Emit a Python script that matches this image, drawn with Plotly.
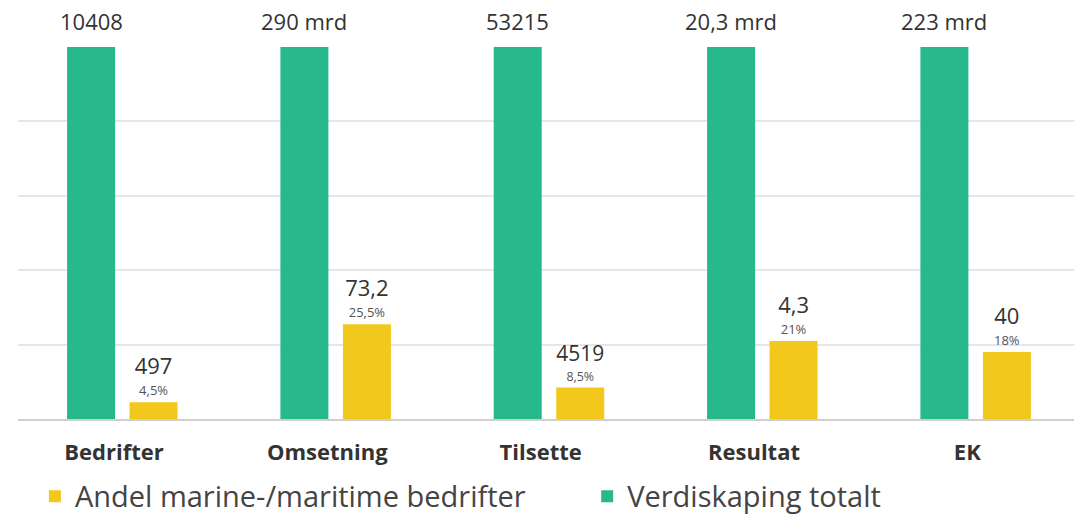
import plotly.graph_objects as go

categories = ["Bedrifter", "Omsetning", "Tilsette", "Resultat", "EK"]
total_share = [100, 100, 100, 100, 100]
total_labels = ["10408", "290 mrd", "53215", "20,3 mrd", "223 mrd"]
marine_share = [4.5, 25.5, 8.5, 21, 18]
marine_values = ["497", "73,2", "4519", "4,3", "40"]
marine_pct = ["4,5%", "25,5%", "8,5%", "21%", "18%"]

GREEN = "#27b98c"
YELLOW = "#f3c81c"
TEXT = "#333333"
BAR_W = 0.225
G_OFF = -0.22
Y_OFF = 0.073

fig = go.Figure()
fig.add_trace(go.Bar(
    x=categories, y=total_share, name="Verdiskaping totalt",
    marker=dict(color=GREEN, line=dict(width=0)),
    width=BAR_W, offset=G_OFF, hoverinfo="skip", legend="legend2",
))
fig.add_trace(go.Bar(
    x=categories, y=marine_share, name="Andel marine-/maritime bedrifter",
    marker=dict(color=YELLOW, line=dict(width=0)),
    width=BAR_W, offset=Y_OFF,
    text=[f"<span style='font-size:22px'>{v}</span><br>"
          f"<span style='font-size:13px;fill:#555555'>{p}</span>"
          for v, p in zip(marine_values, marine_pct)],
    textposition="outside", textfont=dict(size=16, color=TEXT),
    cliponaxis=False, hoverinfo="skip", legend="legend",
))

for i, (val, lab) in enumerate(zip(total_share, total_labels)):
    fig.add_annotation(
        x=i + G_OFF + BAR_W / 2, y=val, xref="x", yref="y",
        text=lab, showarrow=False, yanchor="bottom", yshift=9,
        font=dict(size=22, color=TEXT),
    )

legend_common = dict(
    orientation="h", xanchor="left",
    yref="container", y=0.04, yanchor="middle",
    font=dict(size=29, color="#444444"), itemwidth=30,
    bgcolor="rgba(0,0,0,0)",
)

fig.update_layout(
    width=1074, height=517,
    margin=dict(l=18, r=0, t=47, b=98, autoexpand=False),
    paper_bgcolor="white", plot_bgcolor="white",
    font=dict(family="Open Sans", color=TEXT),
    barmode="group",
    showlegend=True,
    legend=dict(x=0.016, **legend_common),
    legend2=dict(x=0.539, **legend_common),
    xaxis=dict(
        range=[-0.45, 4.5], showgrid=False, showline=True,
        linecolor="#cfcfcf", linewidth=2,
        tickfont=dict(size=22, color=TEXT, family="Open Sans", weight="bold"),
        ticks="", ticklabelstandoff=13,
    ),
    yaxis=dict(
        range=[0, 100], dtick=20, showticklabels=False,
        gridcolor="#e6e6e6", gridwidth=1.5, zeroline=False,
    ),
)

fig.write_html("out.html")
